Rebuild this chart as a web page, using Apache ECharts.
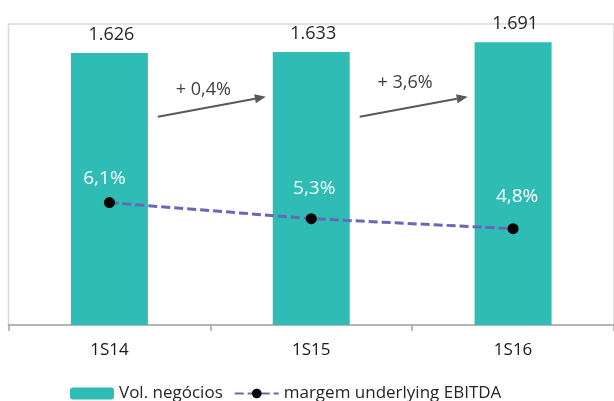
<!DOCTYPE html>
<html>
<head>
<meta charset="utf-8">
<script src="https://cdn.jsdelivr.net/npm/echarts@6/dist/echarts.min.js"></script>
<style>
  html, body { margin: 0; padding: 0; background: #fff; }
  #chart { width: 614px; height: 401px; }
</style>
</head>
<body>
<div id="chart"></div>
<script>
// Half-year periods
const categories = ['1S14', '1S15', '1S16'];
// Turnover (bars)
const volumeValues = [1626, 1633, 1691];
// Underlying EBITDA margin, % (dashed line)
const marginValues = [6.1, 5.3, 4.8];
// Year-on-year growth between consecutive periods
const growthLabels = ['+ 0,4%', '+ 3,6%'];

const FONT = 'Open Sans';
const barColor = '#2ebcb4';
const lineColor = '#6868b8';

// nudges for the margin labels, relative to each marker
const marginLabelNudge = [[-5, -24], [3, -30], [4, -32]];

const fmtThousands = v => String(v).replace(/\B(?=(\d{3})+(?!\d))/g, '.');
const fmtPct = v => v.toFixed(1).replace('.', ',') + '%';

const chart = echarts.init(document.getElementById('chart'), null, { renderer: 'canvas' });

chart.setOption({
  animation: false,
  backgroundColor: '#ffffff',
  textStyle: { fontFamily: FONT },
  grid: {
    left: 8.5, right: -0.5, top: 24, bottom: 76,
    show: true, borderColor: '#d9d9d9', borderWidth: 1.5, backgroundColor: 'transparent'
  },
  xAxis: {
    type: 'category',
    data: categories,
    axisLine: { lineStyle: { color: '#a6a6a6', width: 1.5 } },
    axisTick: { show: true, length: 6, lineStyle: { color: '#a6a6a6', width: 1.5 } },
    axisLabel: { color: '#1a1a1a', fontSize: 17, margin: 17, fontFamily: FONT }
  },
  yAxis: [
    { type: 'value', min: 0, max: 1800, show: false },
    { type: 'value', min: 0, max: 15, show: false }
  ],
  legend: {
    data: ['Vol. negócios', 'margem underlying EBITDA'],
    left: 70, top: 385, padding: 0,
    itemWidth: 44, itemHeight: 12, itemGap: 11,
    textStyle: { fontSize: 17, color: '#262626', fontFamily: FONT }
  },
  series: [
    {
      name: 'Vol. negócios',
      type: 'bar',
      data: volumeValues,
      barWidth: 77,
      itemStyle: { color: barColor },
      label: {
        show: true, position: 'top', distance: 9, offset: [2, 0],
        color: '#262626', fontSize: 18, lineHeight: 18, fontFamily: FONT,
        formatter: p => fmtThousands(p.value)
      },
      z: 2
    },
    {
      name: 'margem underlying EBITDA',
      type: 'line',
      yAxisIndex: 1,
      data: marginValues.map((v, i) => ({ value: v, label: { offset: marginLabelNudge[i] } })),
      symbol: 'circle',
      symbolSize: 11,
      itemStyle: { color: '#000000' },
      lineStyle: { color: lineColor, width: 3, type: [9, 4] },
      label: {
        show: true, position: 'inside', color: '#ffffff', fontSize: 19, fontFamily: FONT,
        formatter: p => fmtPct(p.value)
      },
      z: 3
    }
  ]
});

// Growth arrows between consecutive bars, placed from the axes' own scales
const catX = categories.map(c => chart.convertToPixel({ xAxisIndex: 0 }, c));
const bw = catX[1] - catX[0];
const yv = v => chart.convertToPixel({ yAxisIndex: 0 }, v);
const arrowStartVal = 1245, arrowEndVal = 1365;
const growthLabelVal = [1408, 1445];
const arrowColor = '#595959';

const graphics = [];
growthLabels.forEach((txt, i) => {
  const x1 = catX[i] + 0.24 * bw, y1 = yv(arrowStartVal);
  const x2 = catX[i + 1] - 0.225 * bw, y2 = yv(arrowEndVal);
  const ang = Math.atan2(y2 - y1, x2 - x1);
  const headLen = 11, headHalf = 4.5;
  const bx = x2 - headLen * Math.cos(ang), by = y2 - headLen * Math.sin(ang);
  const nx = -Math.sin(ang), ny = Math.cos(ang);
  graphics.push({
    type: 'line',
    shape: { x1: x1, y1: y1, x2: bx, y2: by },
    style: { stroke: arrowColor, lineWidth: 2 },
    z: 10
  });
  graphics.push({
    type: 'polygon',
    shape: { points: [[x2, y2], [bx + nx * headHalf, by + ny * headHalf], [bx - nx * headHalf, by - ny * headHalf]] },
    style: { fill: arrowColor },
    z: 10
  });
  graphics.push({
    type: 'text',
    x: catX[i] + 0.465 * bw,
    y: yv(growthLabelVal[i]),
    style: {
      text: txt, fill: '#404040', font: '18px "' + FONT + '"',
      textAlign: 'center', textVerticalAlign: 'middle'
    },
    z: 10
  });
});
chart.setOption({ graphic: graphics });
</script>
</body>
</html>
